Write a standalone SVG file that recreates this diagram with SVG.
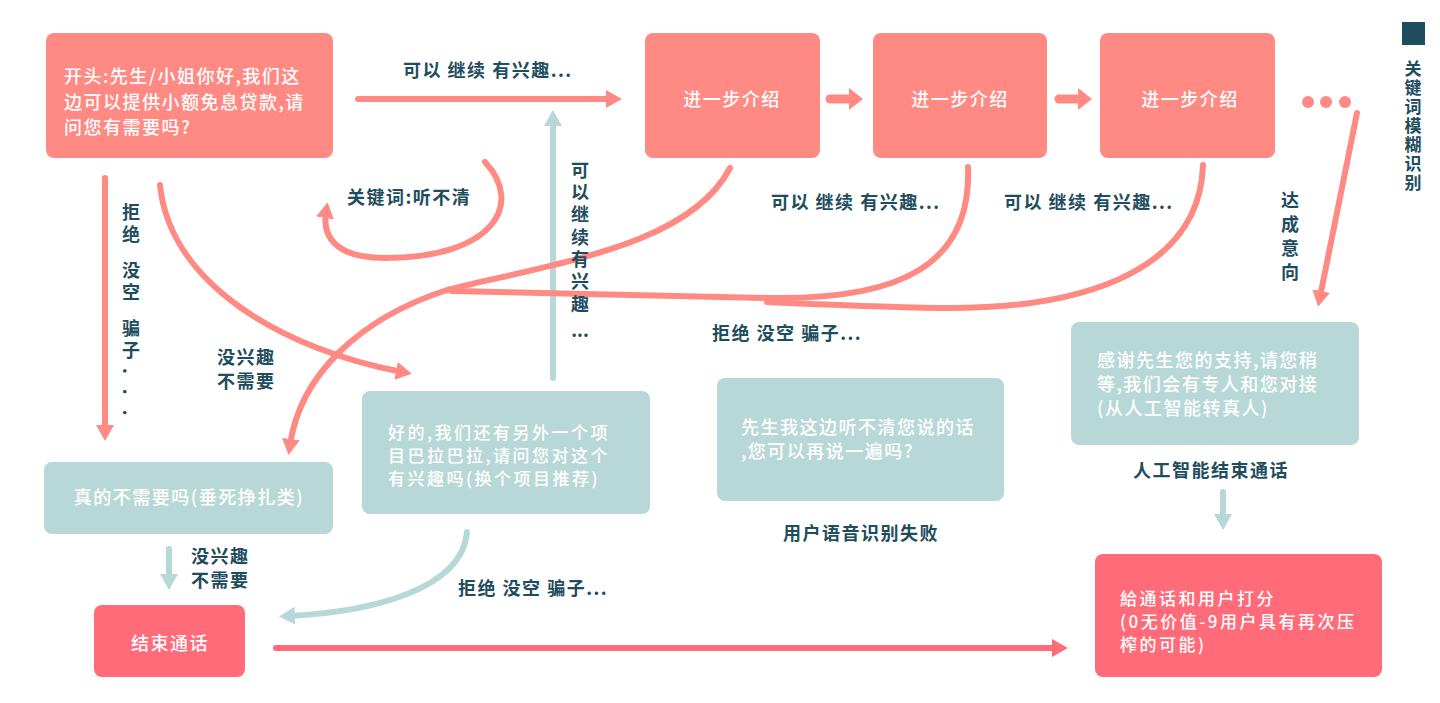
<svg xmlns="http://www.w3.org/2000/svg" width="1440" height="703" viewBox="0 0 1440 703">
<defs>
<style>
.sal{fill:#FF8A84}
.teal{fill:#B8D8D8}
.red{fill:#FF6B78}
.bt{font-family:"Noto Sans CJK SC","Liberation Sans",sans-serif;font-size:18px;fill:#ffffff;letter-spacing:1.5px;font-weight:500}
.bs{font-size:17px;letter-spacing:2.5px}
.lb{font-family:"Noto Sans CJK SC","Liberation Sans",sans-serif;font-size:18px;fill:#1E4D5E;letter-spacing:1.5px;font-weight:700}
.vt{font-family:"Noto Sans CJK SC","Liberation Sans",sans-serif;font-size:18px;fill:#1E4D5E;font-weight:700;writing-mode:vertical-rl}
.c{fill:none;stroke-linecap:round}
.cs{stroke:#FF8A84;stroke-width:6}
.ct{stroke:#B8D8D8;stroke-width:6}
.cr{stroke:#FF6B78;stroke-width:6}
</style>
<marker id="hs" markerUnits="userSpaceOnUse" viewBox="0 0 16 18" markerWidth="16" markerHeight="18" refX="6" refY="9" orient="auto"><path d="M0,0 L16,9 L0,18 z" fill="#FF8A84"/></marker>
<marker id="ht" markerUnits="userSpaceOnUse" viewBox="0 0 16 18" markerWidth="16" markerHeight="18" refX="6" refY="9" orient="auto"><path d="M0,0 L16,9 L0,18 z" fill="#B8D8D8"/></marker>
<marker id="hr" markerUnits="userSpaceOnUse" viewBox="0 0 16 18" markerWidth="16" markerHeight="18" refX="6" refY="9" orient="auto"><path d="M0,0 L16,9 L0,18 z" fill="#FF6B78"/></marker>
<marker id="hb" markerUnits="userSpaceOnUse" viewBox="0 0 14 22" markerWidth="14" markerHeight="22" refX="3" refY="11" orient="auto"><path d="M0,0 L14,11 L0,22 z" fill="#FF8A84"/></marker>
</defs>
<rect width="1440" height="703" fill="#ffffff"/>

<g id="connectors">
<path class="c cs" d="M358,99 H612" marker-end="url(#hs)"/>
<path class="c" stroke="#FF8A84" stroke-width="9" d="M830,99 H852" marker-end="url(#hb)"/>
<path class="c" stroke="#FF8A84" stroke-width="9" d="M1059,99 H1081" marker-end="url(#hb)"/>
<path class="c cs" d="M105,178 V431" marker-end="url(#hs)"/>
<path class="c cs" d="M160,185 C170,285 285,350 402,372" marker-end="url(#hs)"/>
<path class="c cs" d="M485,162 C525,205 492,258 385,258 C335,258 322,236 326,212" marker-end="url(#hs)"/>
<path class="c ct" d="M553,378 V120" marker-end="url(#ht)"/>
<path class="c cs" d="M730,168 C690,245 560,262 447,290 C360,318 300,375 290,445" marker-end="url(#hs)"/>
<path class="c cs" d="M968,167 C972,265 900,300 770,298 C650,296 520,292 452,291"/>
<path class="c cs" d="M1203,165 C1200,262 1100,310 940,308 C880,307 810,304 767,302"/>
<path class="c cs" d="M1357,113 L1320,297" marker-end="url(#hs)"/>
<path class="c ct" d="M467,532 C462,590 370,612 289,616" marker-end="url(#ht)"/>
<path class="c ct" d="M169,549 V580" marker-end="url(#ht)"/>
<path class="c cr" d="M276,648 H1058" marker-end="url(#hr)"/>
<path class="c ct" d="M1223,492 V520" marker-end="url(#ht)"/>
</g>

<g id="labels">
<text class="lb" x="403" y="77">可以 继续 有兴趣...</text>
<text class="lb" x="347" y="204">关键词:听不清</text>
<text class="vt" x="580" y="161" style="letter-spacing:4.3px">可以继续有兴趣</text>
<text class="lb" x="580" y="337" text-anchor="middle" style="letter-spacing:0">...</text>
<text class="vt" x="131" y="203" style="letter-spacing:4px">拒绝</text>
<text class="vt" x="131" y="261" style="letter-spacing:4px">没空</text>
<text class="vt" x="131" y="319" style="letter-spacing:4px">骗子</text>
<text class="vt" x="131" y="368" style="letter-spacing:15px">...</text>
<text class="lb" x="217" y="364">没兴趣</text>
<text class="lb" x="217" y="388">不需要</text>
<text class="lb" x="771" y="209">可以 继续 有兴趣...</text>
<text class="lb" x="1004" y="209">可以 继续 有兴趣...</text>
<text class="lb" x="712" y="340">拒绝 没空 骗子...</text>
<text class="vt" x="1290" y="191" style="letter-spacing:6px">达成意向</text>
<text class="lb" x="191" y="563">没兴趣</text>
<text class="lb" x="191" y="587">不需要</text>
<text class="lb" x="458" y="595">拒绝 没空 骗子...</text>
<text class="lb" x="783" y="540">用户语音识别失败</text>
<text class="lb" x="1133" y="477">人工智能结束通话</text>
</g>

<g id="legend">
<rect x="1402" y="22" width="23" height="23" fill="#1E4D5E"/>
<text class="vt" x="1413" y="60" style="font-size:17px;letter-spacing:2px">关键词模糊识别</text>
</g>

<g id="node-start">
<rect class="sal" x="46" y="33" width="287" height="125" rx="8"/>
<text class="bt"><tspan x="64" y="83">开头:先生/小姐你好,我们这</tspan><tspan x="64" y="109">边可以提供小额免息贷款,请</tspan><tspan x="64" y="134">问您有需要吗?</tspan></text>
</g>
<g id="node-intro1">
<rect class="sal" x="645" y="33" width="175" height="125" rx="8"/>
<text class="bt" x="732" y="106" text-anchor="middle">进一步介绍</text>
</g>
<g id="node-intro2">
<rect class="sal" x="873" y="33" width="174" height="125" rx="8"/>
<text class="bt" x="960" y="106" text-anchor="middle">进一步介绍</text>
</g>
<g id="node-intro3">
<rect class="sal" x="1100" y="33" width="175" height="125" rx="8"/>
<text class="bt" x="1190" y="106" text-anchor="middle">进一步介绍</text>
</g>
<g id="node-more">
<circle class="sal" cx="1308" cy="102" r="6"/>
<circle class="sal" cx="1326" cy="102" r="6"/>
<circle class="sal" cx="1345" cy="102" r="6"/>
</g>
<g id="node-really">
<rect class="teal" x="44" y="462" width="289" height="72" rx="8"/>
<text class="bt" x="189" y="504" text-anchor="middle">真的不需要吗(垂死挣扎类)</text>
</g>
<g id="node-other">
<rect class="teal" x="362" y="391" width="288" height="123" rx="8"/>
<text class="bt bs"><tspan x="388" y="439">好的,我们还有另外一个项</tspan><tspan x="388" y="462">目巴拉巴拉,请问您对这个</tspan><tspan x="388" y="485">有兴趣吗(换个项目推荐)</tspan></text>
</g>
<g id="node-repeat">
<rect class="teal" x="717" y="378" width="287" height="123" rx="8"/>
<text class="bt"><tspan x="741" y="434">先生我这边听不清您说的话</tspan><tspan x="741" y="458">,您可以再说一遍吗?</tspan></text>
</g>
<g id="node-thanks">
<rect class="teal" x="1071" y="322" width="288" height="123" rx="8"/>
<text class="bt"><tspan x="1097" y="367">感谢先生您的支持,请您稍</tspan><tspan x="1097" y="391">等,我们会有专人和您对接</tspan><tspan x="1097" y="415">(从人工智能转真人)</tspan></text>
</g>
<g id="node-end">
<rect class="red" x="94" y="605" width="151" height="72" rx="8"/>
<text class="bt" x="170" y="650" text-anchor="middle">结束通话</text>
</g>
<g id="node-score">
<rect class="red" x="1095" y="554" width="287" height="123" rx="8"/>
<text class="bt bs"><tspan x="1120" y="605">給通话和用户打分</tspan><tspan x="1120" y="628">(0无价值-9用户具有再次压</tspan><tspan x="1120" y="651">榨的可能)</tspan></text>
</g>
</svg>
